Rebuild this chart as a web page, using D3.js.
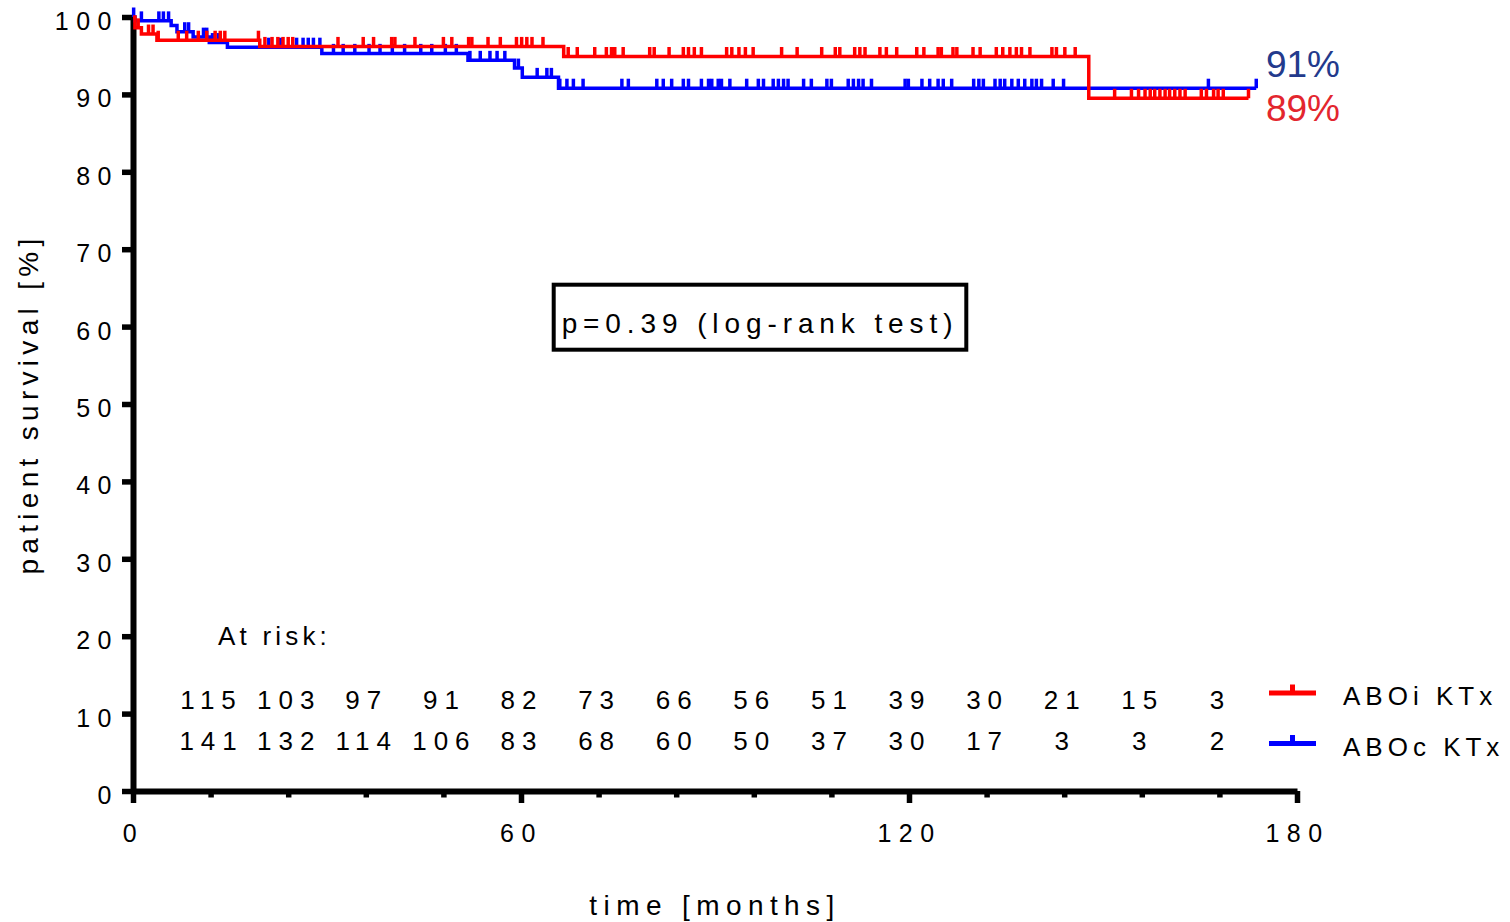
<!DOCTYPE html>
<html>
<head>
<meta charset="utf-8">
<script src="https://cdn.jsdelivr.net/npm/d3@7"></script>
<style>
  html, body { margin: 0; padding: 0; background: #fff; }
  svg { display: block; font-family: "Liberation Sans", Arial, sans-serif; }
</style>
</head>
<body>
<svg id="chart" width="1510" height="922"></svg>
<script>
// Kaplan–Meier steps: [months, survival %]
const aboiSteps = [[0, 100], [0.3, 98.6], [1.3, 97.8], [3.7, 97.0], [19.6, 96.2], [66.6, 94.9], [147.8, 89.5], [172.5, 89.5]];
const abocSteps = [[0, 100], [0.3, 99.5], [5.9, 98.9], [6.8, 98.1], [9.3, 97.4], [11.8, 96.7], [14.6, 96.1], [29.2, 95.3],
                   [51.8, 94.4], [59.0, 93.4], [60.2, 92.2], [65.8, 90.8], [173.7, 90.8]];

// censored observations (months)
const aboiCensored = [0.8, 2.4, 3.1, 3.9, 7.0, 8.3, 10.1, 11.4, 12.7, 13.5, 14.2, 19.4, 20.4, 21.5, 22.4, 23.2, 24.0, 24.7,
  31.7, 35.6, 37.2, 40.0, 40.5, 43.6, 48.0, 49.3, 51.9, 52.4, 54.9, 56.8, 59.3, 60.1, 60.9, 61.7, 63.4, 67.3, 68.7, 71.4,
  73.2, 74.0, 74.5, 75.8, 79.9, 80.6, 82.9, 85.1, 85.9, 86.8, 87.9, 91.8, 92.6, 93.7, 94.7, 95.9, 100.3, 102.7, 106.5,
  108.6, 109.3, 111.6, 112.4, 113.2, 115.5, 116.5, 118.1, 121.2, 122.3, 124.5, 125.0, 126.8, 127.4, 129.9, 131.0, 133.5,
  134.5, 135.6, 136.6, 137.4, 138.7, 142.1, 142.8, 144.1, 145.7, 151.8, 154.4, 155.5, 156.5, 157.3, 158.0, 158.8, 159.6,
  160.3, 161.1, 161.9, 162.7, 165.2, 166.0, 167.1, 167.8, 168.6, 172.5];
const abocCensored = [0.1, 1.3, 4.0, 4.7, 5.5, 8.0, 8.6, 10.9, 11.4, 12.3, 13.2, 21.0, 22.8, 25.3, 26.3, 27.1, 27.9, 28.9,
  31.0, 32.5, 34.3, 36.5, 38.2, 40.1, 42.0, 44.5, 46.2, 48.3, 50.0, 52.1, 53.7, 55.2, 56.3, 57.5, 59.6, 62.5, 64.0, 64.7,
  66.0, 67.1, 68.1, 69.6, 75.6, 76.6, 81.0, 82.0, 83.3, 85.1, 85.9, 87.9, 89.0, 89.5, 90.5, 91.0, 92.3, 94.9, 96.7, 97.5,
  99.0, 99.8, 100.6, 101.3, 103.7, 104.9, 107.3, 108.0, 110.6, 111.4, 112.2, 112.9, 114.2, 119.4, 119.9, 122.0, 123.2,
  124.5, 125.3, 126.6, 130.0, 130.8, 131.5, 133.3, 134.1, 134.8, 135.9, 136.9, 137.9, 139.0, 139.7, 140.5, 142.3, 143.9,
  166.3, 173.7];

// numbers at risk
const riskMonths = [12, 24, 36, 48, 60, 72, 84, 96, 108, 120, 132, 144, 156, 168];
const aboiAtRisk = [115, 103, 97, 91, 82, 73, 66, 56, 51, 39, 30, 21, 15, 3];
const abocAtRisk = [141, 132, 114, 106, 83, 68, 60, 50, 37, 30, 17, 3, 3, 2];

const yTicks = [0, 10, 20, 30, 40, 50, 60, 70, 80, 90, 100];
const xMajorTicks = [0, 60, 120, 180];
const xMinorTicks = [12, 24, 36, 48, 72, 84, 96, 108, 132, 144, 156, 168];

const seriesNames = ["ABOi KTx", "ABOc KTx"];
const finalLabels = ["89%", "91%"];
const pText = "p=0.39 (log-rank test)";

const RED = "#ff0000", BLUE = "#0000ff";

const svg = d3.select("#chart");
const x = d3.scaleLinear().domain([0, 180]).range([133, 1297]);
const y = d3.scaleLinear().domain([0, 100]).range([791, 17]);

function survAt(steps, t) {
  let v = steps[0][1];
  for (const [tt, vv] of steps) { if (tt <= t) v = vv; else break; }
  return v;
}

// ---- axes ----
const yAxis = svg.append("g").attr("transform", `translate(${x(0)},0)`)
  .call(d3.axisLeft(y).tickValues(yTicks).tickSize(11).tickSizeOuter(0).tickPadding(3));
yAxis.select(".domain").attr("stroke", "#000").attr("stroke-width", 6);
yAxis.selectAll(".tick line").attr("stroke", "#000").attr("stroke-width", 5.5);
yAxis.selectAll(".tick text").attr("fill", "#000").attr("font-size", 25)
  .style("letter-spacing", "7.5px").attr("dy", "0.5em");

const xMinor = svg.append("g").attr("transform", `translate(0,${y(0)})`)
  .call(d3.axisBottom(x).tickValues(xMinorTicks).tickSize(6.5).tickSizeOuter(0).tickFormat(""));
xMinor.select(".domain").remove();
xMinor.selectAll(".tick line").attr("stroke", "#000").attr("stroke-width", 5.5);

const xAxis = svg.append("g").attr("transform", `translate(0,${y(0)})`)
  .call(d3.axisBottom(x).tickValues(xMajorTicks).tickSize(12).tickSizeOuter(0));
xAxis.select(".domain").attr("stroke", "#000").attr("stroke-width", 6);
xAxis.selectAll(".tick line").attr("stroke", "#000").attr("stroke-width", 5.5);
xAxis.selectAll(".tick text").attr("fill", "#000").attr("font-size", 25)
  .style("letter-spacing", "7.5px").attr("y", 33);

// axis titles
svg.append("text")
  .attr("transform", `translate(38,${(y(0) + y(100)) / 2}) rotate(-90)`)
  .attr("text-anchor", "middle").attr("font-size", 28).style("letter-spacing", "5.3px")
  .text("patient survival [%]");
svg.append("text")
  .attr("x", (x(0) + x(180)) / 2).attr("y", 915)
  .attr("text-anchor", "middle").attr("font-size", 28).style("letter-spacing", "6.4px")
  .text("time [months]");

// ---- survival curves ----
const line = d3.line().x(d => x(d[0])).y(d => y(d[1])).curve(d3.curveStepAfter);
const series = [
  { steps: abocSteps, censored: abocCensored, color: BLUE },
  { steps: aboiSteps, censored: aboiCensored, color: RED }
];
series.forEach(s => {
  const g = svg.append("g");
  g.append("path").datum(s.steps).attr("d", line)
    .attr("fill", "none").attr("stroke", s.color).attr("stroke-width", 3.5);
  g.selectAll("line.cens").data(s.censored).join("line").attr("class", "cens")
    .attr("x1", d => x(d)).attr("x2", d => x(d))
    .attr("y1", d => y(survAt(s.steps, d))).attr("y2", d => y(survAt(s.steps, d)) - 9.5)
    .attr("stroke", s.color).attr("stroke-width", 3.5);
});

// final survival labels
svg.append("text").attr("x", x(175.2)).attr("y", 77).attr("font-size", 37)
  .attr("fill", "#233a8c").text(finalLabels[1]);
svg.append("text").attr("x", x(175.2)).attr("y", 121).attr("font-size", 37)
  .attr("fill", "#e3262e").text(finalLabels[0]);

// ---- p-value box ----
svg.append("rect").attr("x", 553.7).attr("y", 284.7).attr("width", 412.6).attr("height", 65)
  .attr("fill", "#fff").attr("stroke", "#000").attr("stroke-width", 4);
svg.append("text").attr("x", 760).attr("y", 333.3).attr("text-anchor", "middle")
  .attr("font-size", 28).style("letter-spacing", "5.9px").text(pText);

// ---- numbers at risk ----
svg.append("text").attr("x", 218).attr("y", 645).attr("font-size", 26)
  .style("letter-spacing", "4.2px").text("At risk:");
[aboiAtRisk, abocAtRisk].forEach((row, i) => {
  svg.append("g").selectAll("text").data(row).join("text")
    .attr("x", (d, j) => x(riskMonths[j]))
    .attr("dx", "1px")
    .attr("y", i === 0 ? 709 : 750)
    .attr("text-anchor", "middle").attr("font-size", 26)
    .style("letter-spacing", "7px").text(d => d);
});

// ---- legend ----
const legend = svg.append("g");
[{ name: seriesNames[0], color: RED, cy: 693 }, { name: seriesNames[1], color: BLUE, cy: 743.5 }].forEach(it => {
  legend.append("line").attr("x1", 1269).attr("x2", 1316).attr("y1", it.cy).attr("y2", it.cy)
    .attr("stroke", it.color).attr("stroke-width", 5);
  legend.append("line").attr("x1", 1292.5).attr("x2", 1292.5).attr("y1", it.cy).attr("y2", it.cy - 8.5)
    .attr("stroke", it.color).attr("stroke-width", 5);
  legend.append("text").attr("x", 1343).attr("y", it.cy + 12).attr("font-size", 26)
    .style("letter-spacing", "5px").text(it.name);
});
</script>
</body>
</html>
